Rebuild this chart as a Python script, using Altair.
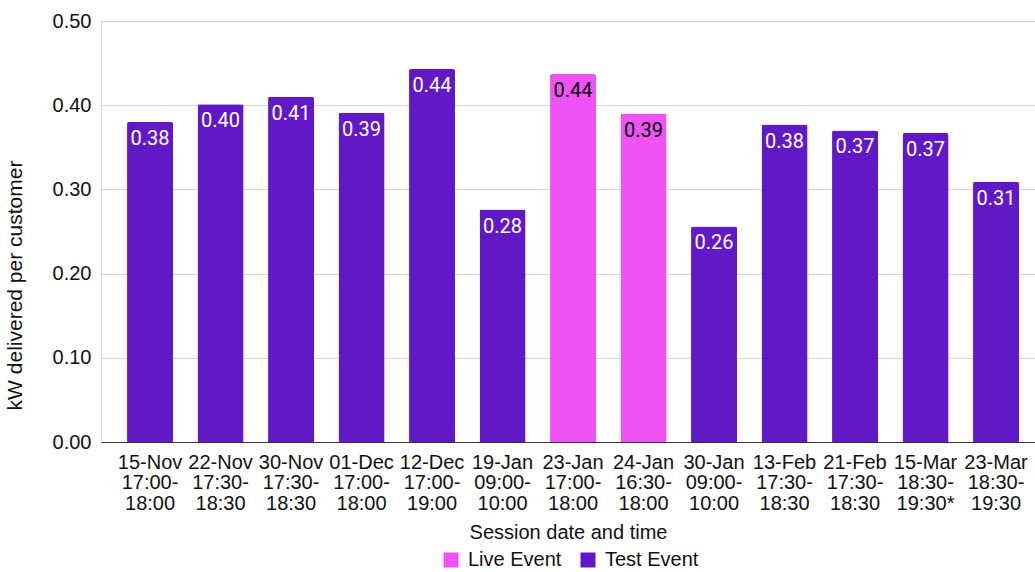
import altair as alt
import pandas as pd

sessions = [
    "15-Nov|17:00-|18:00", "22-Nov|17:30-|18:30", "30-Nov|17:30-|18:30",
    "01-Dec|17:00-|18:00", "12-Dec|17:00-|19:00", "19-Jan|09:00-|10:00",
    "23-Jan|17:00-|18:00", "24-Jan|16:30-|18:00", "30-Jan|09:00-|10:00",
    "13-Feb|17:30-|18:30", "21-Feb|17:30-|18:30", "15-Mar|18:30-|19:30*",
    "23-Mar|18:30-|19:30",
]
kw_per_customer = [0.380, 0.401, 0.410, 0.391, 0.443, 0.276, 0.437, 0.390,
                   0.256, 0.377, 0.370, 0.367, 0.309]
event_type = ["Test Event"] * 6 + ["Live Event"] * 2 + ["Test Event"] * 5

df = pd.DataFrame({"session": sessions, "kw": kw_per_customer, "type": event_type})

FONT = "Liberation Sans"

x = alt.X(
    "session:N",
    sort=sessions,
    scale=alt.Scale(paddingInner=0.3475, paddingOuter=0.298, align=0.62),
    axis=alt.Axis(
        title="Session date and time",
        labelAngle=0,
        labelExpr="split(datum.label, '|')",
        labelFont=FONT, labelFontSize=20, labelLineHeight=20.5, labelColor="#111",
        labelPadding=10, ticks=False,
        domainColor="#333", domainWidth=1.2,
        titleFont=FONT, titleFontSize=20, titleFontWeight="normal", titleColor="#111",
        titleY=90, titleBaseline="middle",
    ),
)

y = alt.Y(
    "kw:Q",
    scale=alt.Scale(domain=[0, 0.5]),
    axis=alt.Axis(
        title="kW delivered per customer",
        values=[0, 0.1, 0.2, 0.3, 0.4, 0.5],
        format=".2f",
        labelFont=FONT, labelFontSize=20, labelColor="#111", labelPadding=10,
        ticks=False, domain=False,
        gridColor="#d6d6d6", gridWidth=1,
        titleFont=FONT, titleFontSize=21, titleFontWeight="normal", titleColor="#111",
        titleX=-86, titleY=264, titleBaseline="middle", titleAlign="center",
    ),
)

color = alt.Color(
    "type:N",
    scale=alt.Scale(domain=["Live Event", "Test Event"], range=["#F053F5", "#6119C8"]),
    legend=alt.Legend(
        title=None, orient="none", direction="horizontal",
        legendX=340, legendY=529, padding=0,
        symbolType="square", symbolSize=225, symbolStrokeWidth=0,
        labelFont=FONT, labelFontSize=20, labelColor="#111", labelOffset=7,
        columnPadding=16,
    ),
)

bars = alt.Chart(df).mark_bar(cornerRadiusTopLeft=2, cornerRadiusTopRight=2).encode(
    x=x, y=y, color=color
)

labels = alt.Chart(df).mark_text(
    font="Roboto", fontSize=20, baseline="middle", dy=17
).encode(
    x=alt.X("session:N", sort=sessions),
    y="kw:Q",
    text=alt.Text("kw:Q", format=".2f"),
    color=alt.condition(alt.datum.type == "Live Event", alt.value("#000000"), alt.value("#ffffff")),
)

chart = (
    alt.layer(bars, labels)
    .properties(width=934, height=421, autosize=alt.AutoSizeParams(type="none"),
                padding={"left": 101, "top": 21, "right": 0, "bottom": 130})
    .configure_view(stroke=None)
    .configure(background="white")
)

chart.save("out.html", embed_options={"renderer": "svg", "actions": False})
